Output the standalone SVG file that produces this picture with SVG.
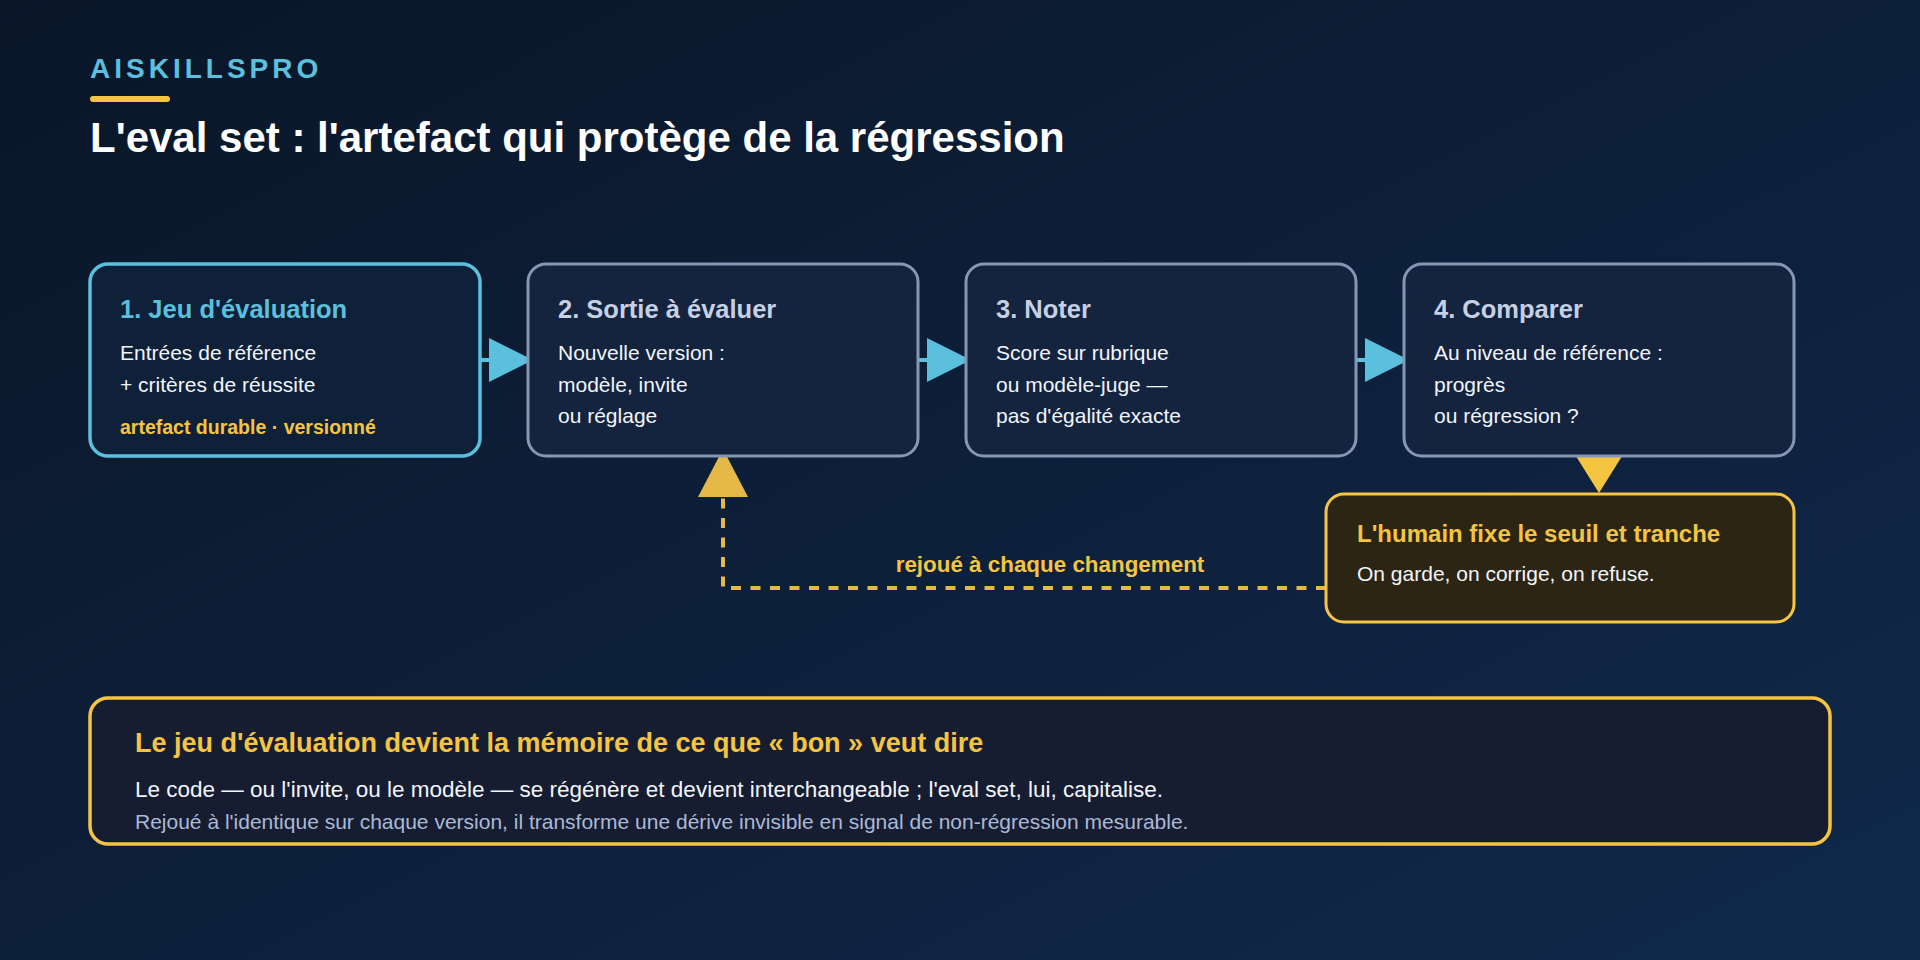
<svg xmlns="http://www.w3.org/2000/svg" width="1920" height="960" viewBox="0 0 1920 960">
<defs>
<linearGradient id="bg" x1="0" y1="0" x2="1" y2="1">
<stop offset="0" stop-color="#0a1628"/>
<stop offset="1" stop-color="#10294b"/>
</linearGradient>
<style>
text{font-family:"Liberation Sans",Arial,"DejaVu Sans",sans-serif}
.box{fill:#14233e;stroke:#8697b5;stroke-width:3}
.ttl{font-size:25.5px;font-weight:700;fill:#c6d0e3}
.body{font-size:21px;fill:#f2f5fa}
.blue{fill:#5bc0de}
.stub{stroke:#5bc0de;stroke-width:4}
</style>
</defs>
<rect width="1920" height="960" fill="url(#bg)"/>
<g id="header">
<text x="90" y="78" font-size="28" font-weight="700" letter-spacing="4" fill="#5bc0de">AISKILLSPRO</text>
<rect x="90" y="96" width="80" height="6" rx="3" fill="#f5c542"/>
<text x="90" y="152" font-size="42" font-weight="700" fill="#ffffff">L'eval set : l'artefact qui protège de la régression</text>
</g>
<g id="connectors">
<line class="stub" x1="481" y1="360" x2="491" y2="360"/>
<polygon class="blue" points="489,338 533,360 489,382"/>
<line class="stub" x1="919" y1="360" x2="929" y2="360"/>
<polygon class="blue" points="927,338 971,360 927,382"/>
<line class="stub" x1="1357" y1="360" x2="1367" y2="360"/>
<polygon class="blue" points="1365,338 1409,360 1365,382"/>
<polygon points="1574,453 1624,453 1599,493" fill="#f5c542"/>
<path d="M1326 588 H723 V496" fill="none" stroke="#e4b947" stroke-width="4" stroke-dasharray="10 9.5"/>
<polygon points="723,449 698,497 748,497" fill="#e4b947"/>
<text x="1050" y="572" font-size="22.4" font-weight="700" fill="#f5c542" text-anchor="middle">rejoué à chaque changement</text>
</g>
<g id="node1">
<rect x="90" y="264" width="390" height="192" rx="18" fill="#0f2039" stroke="#5bc0de" stroke-width="3.5"/>
<text x="120" y="318" class="ttl" style="fill:#5bc0de">1. Jeu d'évaluation</text>
<text x="120" y="360" class="body">Entrées de référence</text>
<text x="120" y="392" class="body">+ critères de réussite</text>
<text x="120" y="434" font-size="19.5" font-weight="700" fill="#f5c542">artefact durable · versionné</text>
</g>
<g id="node2">
<rect class="box" x="528" y="264" width="390" height="192" rx="18"/>
<text x="558" y="318" class="ttl">2. Sortie à évaluer</text>
<text x="558" y="360" class="body">Nouvelle version :</text>
<text x="558" y="392" class="body">modèle, invite</text>
<text x="558" y="423" class="body">ou réglage</text>
</g>
<g id="node3">
<rect class="box" x="966" y="264" width="390" height="192" rx="18"/>
<text x="996" y="318" class="ttl">3. Noter</text>
<text x="996" y="360" class="body">Score sur rubrique</text>
<text x="996" y="392" class="body">ou modèle-juge —</text>
<text x="996" y="423" class="body">pas d'égalité exacte</text>
</g>
<g id="node4">
<rect class="box" x="1404" y="264" width="390" height="192" rx="18"/>
<text x="1434" y="318" class="ttl">4. Comparer</text>
<text x="1434" y="360" class="body">Au niveau de référence :</text>
<text x="1434" y="392" class="body">progrès</text>
<text x="1434" y="423" class="body">ou régression ?</text>
</g>
<g id="human">
<rect x="1326" y="494" width="468" height="128" rx="18" fill="#2c2513" stroke="#f5c542" stroke-width="3"/>
<text x="1357" y="542" font-size="24" font-weight="700" fill="#f5c542">L'humain fixe le seuil et tranche</text>
<text x="1357" y="581" class="body">On garde, on corrige, on refuse.</text>
</g>
<g id="summary">
<rect x="90" y="698" width="1740" height="146" rx="18" fill="#171d31" stroke="#f5c542" stroke-width="3.5"/>
<text x="135" y="752" font-size="27" font-weight="700" fill="#f5c542">Le jeu d'évaluation devient la mémoire de ce que « bon » veut dire</text>
<text x="135" y="797" font-size="22.5" fill="#f2f5fa">Le code — ou l'invite, ou le modèle — se régénère et devient interchangeable ; l'eval set, lui, capitalise.</text>
<text x="135" y="829" font-size="21" fill="#a9b9d6">Rejoué à l'identique sur chaque version, il transforme une dérive invisible en signal de non-régression mesurable.</text>
</g>
</svg>
